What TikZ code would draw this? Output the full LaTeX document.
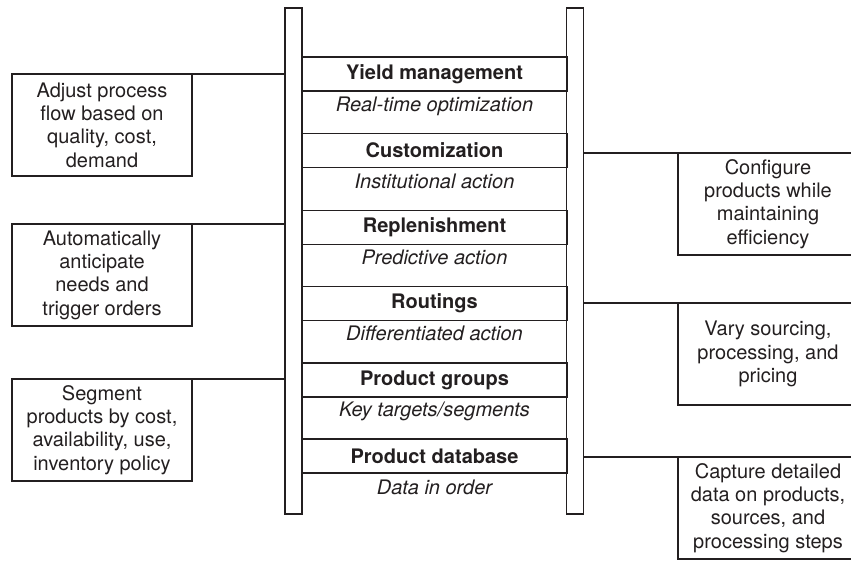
\documentclass[tikz,border=0pt]{standalone}
\usepackage{fontspec}
\setmainfont{TeX Gyre Heros}
\usetikzlibrary{positioning}
\definecolor{ink}{RGB}{35,31,32}

\begin{document}
\begin{tikzpicture}[
    x=1pt, y=-1pt,
    line width=1.1pt, draw=ink, text=ink,
    rail/.style={draw, minimum width=17pt, minimum height=506pt, inner sep=0pt, outer sep=0pt},
    band/.style={draw, minimum width=265pt, minimum height=34pt, inner sep=0pt, outer sep=0pt,
        font=\fontsize{20}{23.3}\selectfont\bfseries},
    sub/.style={inner sep=0pt, font=\fontsize{20}{23.3}\selectfont\itshape},
    note/.style={draw, minimum width=180pt, minimum height=102pt, inner sep=0pt, outer sep=0pt,
        align=center, font=\fontsize{20}{23.3}\selectfont}
]
\useasboundingbox (0,0) rectangle (851,577);
\clip (0,0) rectangle (851,577);

% Ladder
\node[rail] (lrail) at (293.5, 261) {};
\node[rail] (rrail) at (575, 261) {};

\node[band] (band1) at (434.5, 74) {Yield management};
\node[sub] (sub1) at (434.5, 106) {Real-time optimization};
\node[band] (band2) at (434.5, 150.5) {Customization};
\node[sub] (sub2) at (434.5, 181) {Institutional action};
\node[band] (band3) at (434.5, 227.5) {Replenishment};
\node[sub] (sub3) at (434.5, 257.5) {Predictive action};
\node[band] (band4) at (434.5, 303.5) {Routings};
\node[sub] (sub4) at (434.5, 333.5) {Differentiated action};
\node[band] (band5) at (434.5, 380) {Product groups};
\node[sub] (sub5) at (434.5, 411) {Key targets/segments};
\node[band] (band6) at (434.5, 456) {Product database};
\node[sub] (sub6) at (434.5, 487) {Data in order};

% Left side
\node[note] (lb1) at (102, 125) {Adjust process\\flow based on\\quality, cost,\\demand};
\draw (lb1.north west) -- (lb1.north west -| lrail.west);
\node[note] (lb2) at (102, 275) {Automatically\\anticipate\\needs and\\trigger orders};
\draw (lb2.north west) -- (lb2.north west -| lrail.west);
\node[note] (lb3) at (102, 430) {Segment\\products by cost,\\availability, use,\\inventory policy};
\draw (lb3.north west) -- (lb3.north west -| lrail.west);

% Right side
\node[note] (rb1) at (768, 204) {Configure\\products while\\maintaining\\efficiency};
\draw (rb1.north east) -- (rb1.north east -| rrail.east);
\node[note] (rb2) at (768, 354) {Vary sourcing,\\processing, and\\pricing};
\draw (rb2.north east) -- (rb2.north east -| rrail.east);
\node[note] (rb3) at (768, 508) {Capture detailed\\data on products,\\sources, and\\processing steps};
\draw (rb3.north east) -- (rb3.north east -| rrail.east);

\end{tikzpicture}
\end{document}
